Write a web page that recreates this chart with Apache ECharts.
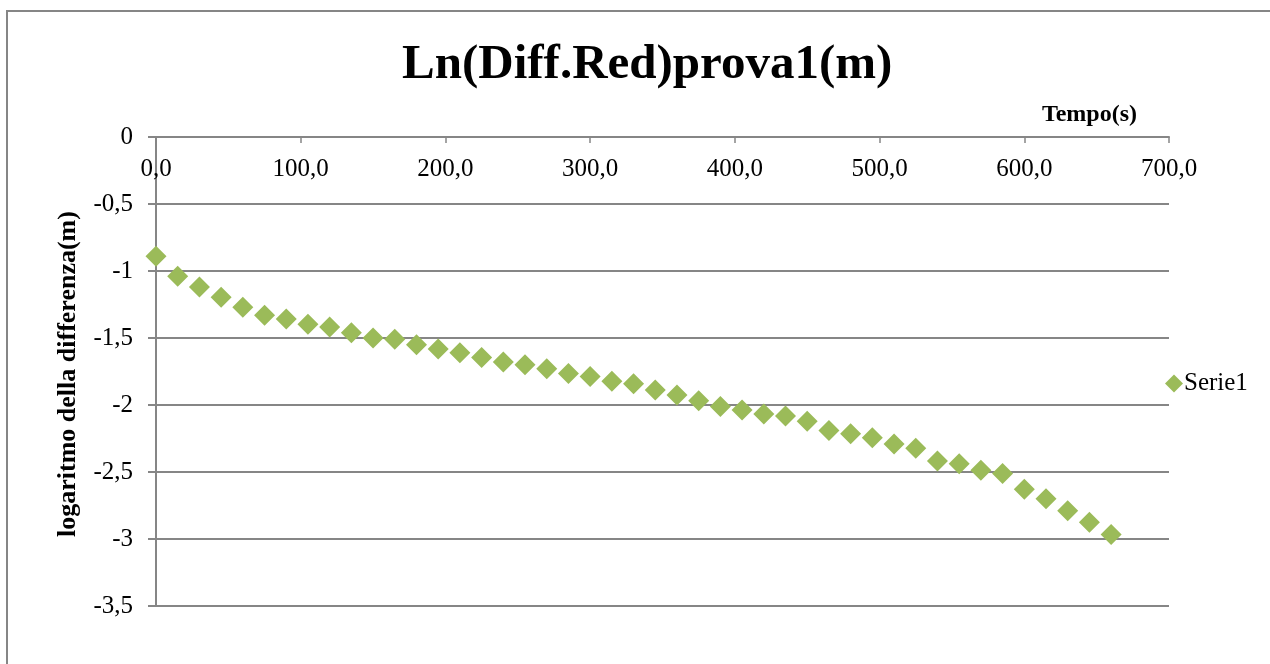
<!DOCTYPE html>
<html>
<head>
<meta charset="utf-8">
<script src="https://cdn.jsdelivr.net/npm/echarts@6/dist/echarts.min.js"></script>
<style>
html,body{margin:0;padding:0;background:#fff;}
#chart{width:1270px;height:664px;}
</style>
</head>
<body>
<div id="chart"></div>
<script>
var titleText = 'Ln(Diff.Red)prova1(m)';
var xName = 'Tempo(s)';
var yName = 'logaritmo della differenza(m)';
var seriesName = 'Serie1';
var times = [0,15,30,45,60,75,90,105,120,135,150,165,180,195,210,225,240,255,270,285,300,315,330,345,360,375,390,405,420,435,450,465,480,495,510,525,540,555,570,585,600,615,630,645,660];
var lnDiff = [-0.89,-1.04,-1.12,-1.195,-1.27,-1.33,-1.358,-1.397,-1.418,-1.46,-1.50,-1.51,-1.55,-1.582,-1.61,-1.645,-1.68,-1.70,-1.73,-1.765,-1.787,-1.823,-1.842,-1.888,-1.925,-1.968,-2.012,-2.037,-2.067,-2.082,-2.122,-2.19,-2.214,-2.244,-2.291,-2.323,-2.418,-2.438,-2.487,-2.512,-2.629,-2.699,-2.79,-2.875,-2.967];
var xTickValues = [0,100,200,300,400,500,600,700];
var xTickLabels = ['0,0','100,0','200,0','300,0','400,0','500,0','600,0','700,0'];
var yTickValues = [0,-0.5,-1,-1.5,-2,-2.5,-3,-3.5];
var yTickLabels = ['0','-0,5','-1','-1,5','-2','-2,5','-3','-3,5'];

var FONT = "'Liberation Serif','Times New Roman',serif";
var GRAY = '#868686';
var GREEN = '#9BBB59';

function lookup(vals, labels, v){
  for (var i=0;i<vals.length;i++){ if (Math.abs(vals[i]-v)<1e-9) return labels[i]; }
  return '';
}

var chart = echarts.init(document.getElementById('chart'), null, {renderer:'canvas'});
var data = times.map(function(t,i){ return [t, lnDiff[i]]; });

chart.setOption({
  animation:false,
  backgroundColor:'#fff',
  title:{
    text:titleText,
    left:397,
    top:36,
    textStyle:{fontFamily:FONT,fontSize:49,fontWeight:'bold',color:'#000'}
  },
  legend:{
    data:[{name:seriesName,icon:'diamond'}],
    left:1160,
    top:366,
    itemWidth:18,
    itemHeight:18,
    itemGap:4,
    itemStyle:{opacity:1},
    textStyle:{fontFamily:FONT,fontSize:25,color:'#000',padding:[0,0,0,-4]}
  },
  grid:{left:156,right:101,top:137,bottom:58,containLabel:false},
  xAxis:{
    type:'value',
    position:'top',
    min:0,max:700,interval:100,
    axisLine:{show:true,onZero:false,lineStyle:{color:GRAY,width:2}},
    axisTick:{show:true,inside:true,length:6,lineStyle:{color:GRAY,width:1.5}},
    axisLabel:{inside:true,margin:20,fontFamily:FONT,fontSize:25,color:'#000',
      formatter:function(v){return lookup(xTickValues,xTickLabels,v);}},
    splitLine:{show:false}
  },
  yAxis:{
    type:'value',
    min:-3.5,max:0,interval:0.5,
    axisLine:{show:true,lineStyle:{color:GRAY,width:2}},
    axisTick:{show:true,inside:false,length:8,lineStyle:{color:GRAY,width:2}},
    axisLabel:{margin:23,fontFamily:FONT,fontSize:25,color:'#000',
      formatter:function(v){return lookup(yTickValues,yTickLabels,v);}},
    splitLine:{show:true,lineStyle:{color:GRAY,width:2}}
  },
  graphic:[
    {type:'rect',shape:{x:7,y:11,width:1300,height:700},style:{fill:'none',stroke:GRAY,lineWidth:2},silent:true,z:-1},
    {type:'text',x:1137,y:115,style:{text:xName,align:'right',verticalAlign:'middle',font:"bold 24px 'Liberation Serif','Times New Roman',serif",fill:'#000'}},
    {type:'text',x:68,y:374,rotation:Math.PI/2,style:{text:yName,align:'center',verticalAlign:'middle',font:"bold 26px 'Liberation Serif','Times New Roman',serif",fill:'#000'}}
  ],
  series:[{
    name:seriesName,
    type:'scatter',
    symbol:'diamond',
    symbolSize:21,
    itemStyle:{color:GREEN,opacity:1},
    data:data
  }]
});
</script>
</body>
</html>
